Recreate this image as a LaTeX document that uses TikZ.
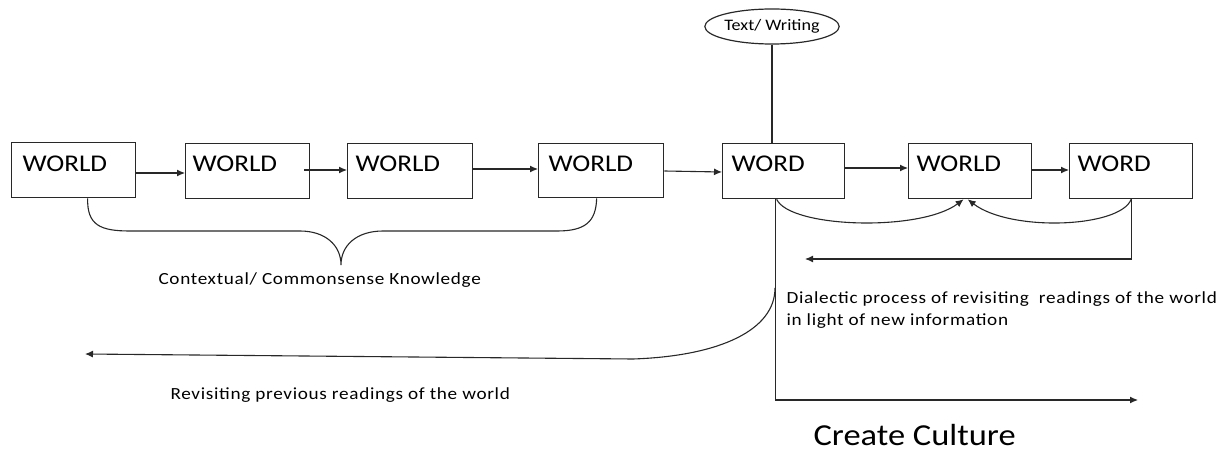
\documentclass[tikz,border=0pt]{standalone}
\usepackage{fontspec}
\setmainfont{Carlito}[FakeStretch=1.13]
\newfontfamily\lblfont{Carlito}[FakeStretch=1.13,LetterSpace=4]
\usetikzlibrary{arrows.meta,calc,shapes.geometric}
\begin{document}
\begin{tikzpicture}[x=1pt,y=-1pt,
  line width=1.1pt, draw={rgb,255:red,40;green,40;blue,40},
  box/.style={draw, line width=1.3pt, rectangle, inner sep=0pt, anchor=north west},
  boxtext/.style={anchor=base west, inner sep=0pt, font=\fontsize{24}{24}\selectfont},
  lbl/.style={anchor=base west, inner sep=0pt, font=\lblfont\fontsize{17}{17}\selectfont},
  arr/.style={-{Latex[length=8pt,width=7pt]}},
]
\useasboundingbox (0,0) rectangle (1229,449);
% boxes
\node[box, minimum width=124pt, minimum height=55pt] (b1) at (11,142) {};
\node[box, minimum width=124pt, minimum height=55pt] (b2) at (185,143) {};
\node[box, minimum width=125pt, minimum height=55pt] (b3) at (347,143) {};
\node[box, minimum width=125pt, minimum height=54pt] (b4) at (538,143) {};
\node[box, minimum width=122pt, minimum height=55pt] (b5) at (722,143) {};
\node[box, minimum width=123pt, minimum height=55pt] (b6) at (908,143) {};
\node[box, minimum width=123pt, minimum height=55pt] (b7) at (1069,143) {};
\node[boxtext] (t1) at (22,172) {WORLD};
\node[boxtext] (t2) at (192,172) {WORLD};
\node[boxtext] (t3) at (355,172) {WORLD};
\node[boxtext] (t4) at (548,172) {WORLD};
\node[boxtext] (t5) at (731,172) {WORD};
\node[boxtext] (t6) at (916,172) {WORLD};
\node[boxtext] (t7) at (1077,172) {WORD};
% ellipse
\node[draw, ellipse, line width=1.2pt, minimum width=113pt, minimum height=35pt, inner sep=0pt,
      font=\fontsize{16}{16}\selectfont] (tw) at (772,26.5) {\raisebox{-2pt}{Text/ Writing}};
\draw (tw.south) -- (tw.south |- b5.north);
% chain arrows
\draw[arr] (b1.east |- 0,173) -- (b2.west |- 0,173);
\draw[arr] ([xshift=-6pt]b2.east |- 0,170) -- (b3.west |- 0,170);
\draw[arr] (b3.east |- 0,169) -- (b4.west |- 0,169);
\draw[arr] (b4.east |- 0,171) -- (b5.west |- 0,172);
\draw[arr] (b5.east |- 0,168) -- (b6.west |- 0,168);
\draw[arr] (b6.east |- 0,170) -- (b7.west |- 0,170);
% brace
\coordinate (bt) at (341,265);
\draw ([xshift=14pt]b1.south) .. controls (87,225) and (100,231) .. (130,231) -- (300,231)
  .. controls (325,231) and (341,245) .. (bt)
  .. controls (341,245) and (357,231) .. (383,231) -- (557,231)
  .. controls (585,231) and (596,222) .. ([xshift=-4.5pt]b4.south);
\node[lbl] (ck) at (158,284) {Contextual/ Commonsense Knowledge};
% dialectic curves
\draw[arr] ([xshift=-7pt]b5.south) .. controls (790,228) and (920,232) .. ([xshift=-6.5pt]b6.south);
\draw[arr] (b7.south) .. controls (1120,228) and (1010,232) .. ([xshift=-2.5pt]b6.south);
\coordinate (fb) at (805,259);
\draw[arr] (b7.south) |- (fb);
\node[lbl] (dp1) at (786,303) {Dialectic process of revisiting \ readings of the world};
\node[lbl] (dp2) at (786,325) {in light of new information};
% culture
\coordinate (cc) at (1138,400);
\draw[arr] ([xshift=-8pt]b5.south) |- (cc);
\node[anchor=base west, inner sep=0pt, text depth=0pt, font=\fontsize{30.5}{30}\selectfont] (cu) at (813,445) {Create Culture};
% revisiting
\coordinate (j) at (775,288);
\coordinate (rv) at (85,354);
\draw[arr] (j) .. controls (775,330) and (720,356) .. (633,359) -- (rv);
\node[lbl] (rp) at (170,399) {Revisiting previous readings of the world};
\end{tikzpicture}
\end{document}
